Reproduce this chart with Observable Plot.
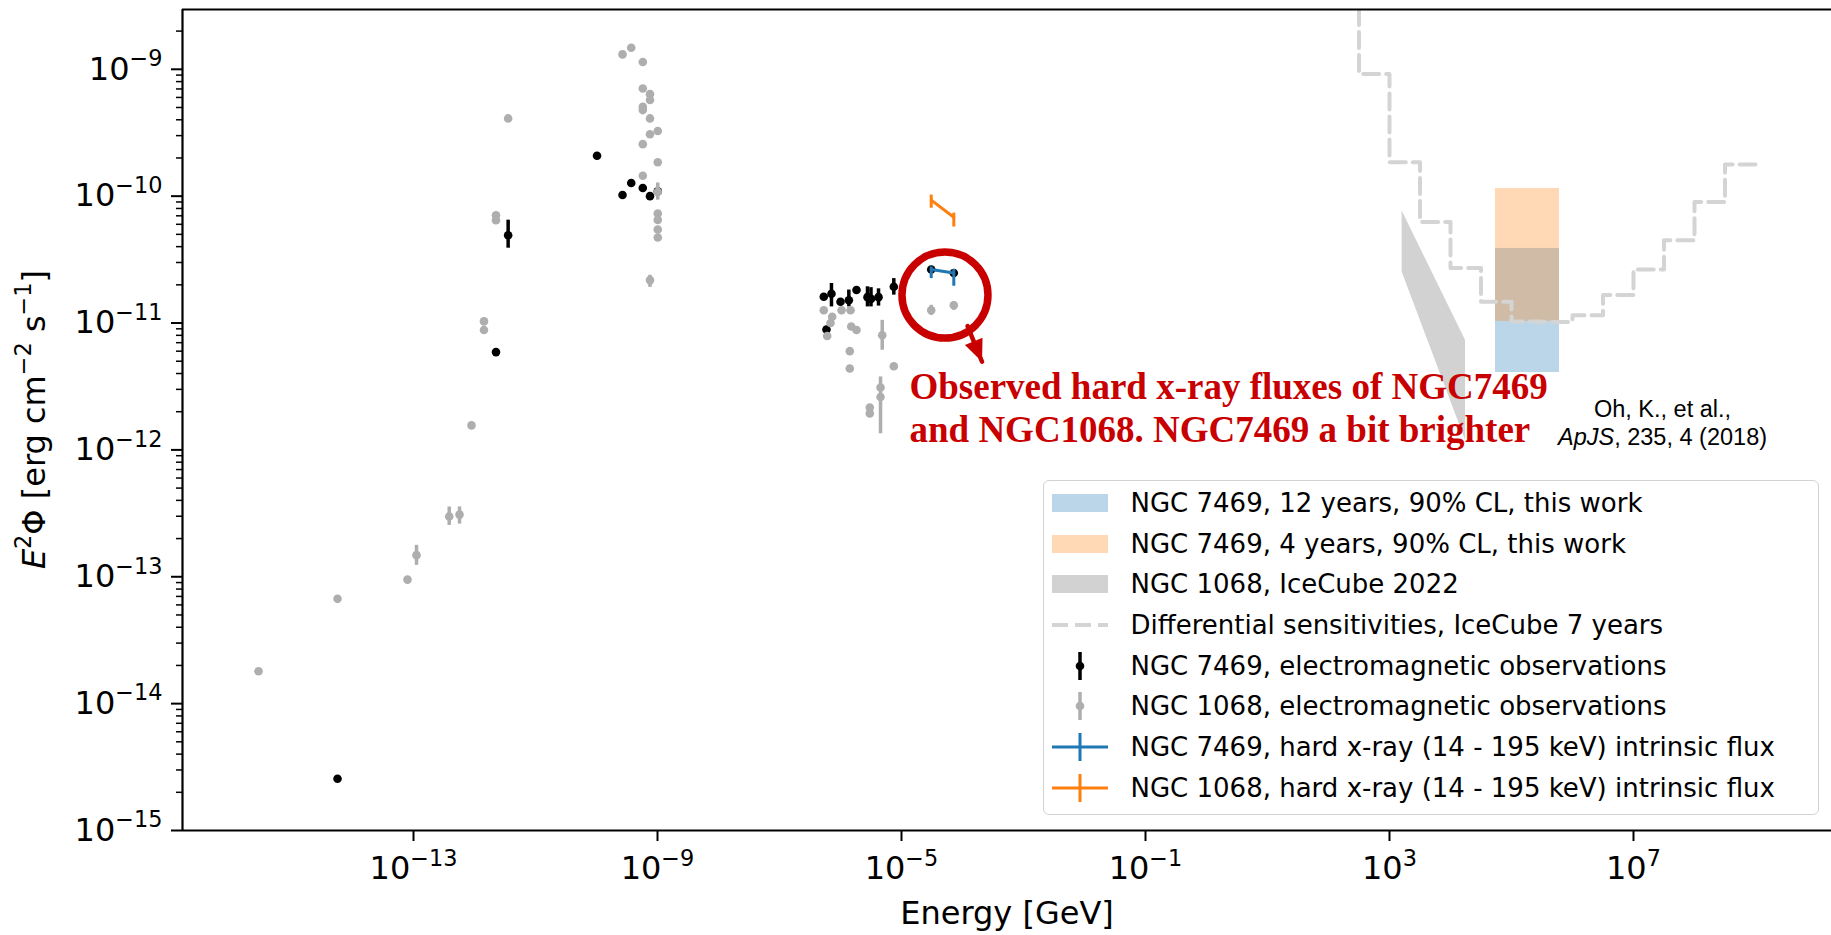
<!DOCTYPE html>
<html>
<head>
<meta charset="utf-8">
<script src="https://cdn.jsdelivr.net/npm/d3@7"></script>
<script src="https://cdn.jsdelivr.net/npm/@observablehq/plot@0.6"></script>
<style>
  html, body { margin: 0; padding: 0; background: #fff; }
  #figure { position: relative; width: 1831px; height: 935px; overflow: hidden; background: #fff; }
  #figure > svg { position: absolute; left: 0; top: 0; }
  .legend { position: absolute; left: 1043px; top: 480px; width: 776px; height: 335px; box-sizing: border-box;
            border: 1.5px solid #d2d2d2; border-radius: 6px; background: rgba(255,255,255,0.8);
            font-family: "DejaVu Sans", sans-serif; font-size: 26px; color: #000; }
  .legend .row { position: absolute; left: 0; right: 0; height: 40px; }
  .legend .row svg { position: absolute; left: 7.5px; top: 0; overflow: visible; }
  .legend .row span { position: absolute; left: 86.5px; top: 50%; transform: translateY(-50%); white-space: nowrap; line-height: 1; }
</style>
</head>
<body>
<div id="figure"></div>
<script>
// ---- axes ----
const xDomain = [10 ** -16.787, 10 ** 10.246];   // Energy [GeV]
const yDomain = [1e-15, 2.96e-9];                // E^2 Phi [erg cm^-2 s^-1]
const xTicks = [1e-13, 1e-9, 1e-5, 1e-1, 1e3, 1e7];
const yTicks = [1e-15, 1e-14, 1e-13, 1e-12, 1e-11, 1e-10, 1e-9];
const xTitle = "Energy [GeV]";
const yTitleParts = [
  {t: "E", italic: true}, {t: "2", sup: true}, {t: "Φ [erg cm"}, {t: "−2", sup: true},
  {t: " s"}, {t: "−1", sup: true}, {t: "]"}
];

// ---- NGC 7469, electromagnetic observations ----
const n7469Energy = [5.68e-15, 2.25e-12, 3.56e-12, 1.02e-10, 2.67e-10, 3.71e-10, 5.74e-10, 7.53e-10, 1.01e-9,
                     5.32e-7, 5.89e-7, 7.11e-7, 1.0e-6, 1.37e-6, 1.83e-6, 2.77e-6, 3.16e-6, 4.2e-6, 7.48e-6,
                     3.07e-5, 7.2e-5];
const n7469Flux   = [2.56e-15, 5.9e-12, 4.92e-11, 2.08e-10, 1.02e-10, 1.27e-10, 1.16e-10, 1.0e-10, 1.09e-10,
                     1.61e-11, 8.9e-12, 1.7e-11, 1.47e-11, 1.51e-11, 1.82e-11, 1.6e-11, 1.55e-11, 1.6e-11, 1.93e-11,
                     2.64e-11, 2.48e-11];
const n7469ErrEnergy = [3.56e-12, 7.11e-7, 1.37e-6, 2.77e-6, 3.16e-6, 4.2e-6, 7.48e-6];
const n7469ErrLow    = [3.89e-11, 1.34e-11, 1.34e-11, 1.34e-11, 1.34e-11, 1.36e-11, 1.66e-11];
const n7469ErrHigh   = [6.47e-11, 2.05e-11, 1.82e-11, 1.93e-11, 1.9e-11, 1.86e-11, 2.24e-11];

// ---- NGC 1068, electromagnetic observations ----
const n1068Energy = [2.88e-16, 5.68e-15, 7.97e-14, 1.12e-13, 3.85e-13, 5.68e-13, 8.93e-13, 1.43e-12, 1.43e-12,
                     2.25e-12, 2.25e-12, 3.56e-12,
                     2.67e-10, 3.71e-10,
                     5.74e-10, 5.74e-10, 5.74e-10, 5.74e-10, 5.74e-10, 5.74e-10,
                     7.53e-10, 7.53e-10, 7.53e-10, 7.53e-10, 7.53e-10,
                     1.01e-9, 1.01e-9, 1.01e-9, 1.01e-9, 1.01e-9, 1.01e-9, 1.01e-9,
                     5.32e-7, 7.31e-7, 6.86e-7, 6.05e-7, 1.04e-6, 1.46e-6, 1.5e-6, 1.83e-6, 1.42e-6, 1.42e-6,
                     4.83e-6, 7.48e-6, 4.53e-6, 4.53e-6, 3.02e-6, 3.02e-6, 3.07e-5, 7.2e-5];
const n1068Flux   = [1.8e-14, 6.7e-14, 9.5e-14, 1.48e-13, 2.99e-13, 3.09e-13, 1.56e-12, 1.03e-11, 8.8e-12,
                     7.08e-11, 6.47e-11, 4.1e-10,
                     1.31e-9, 1.48e-9,
                     1.14e-9, 7.06e-10, 5.06e-10, 4.77e-10, 2.57e-10, 1.45e-10,
                     6.37e-10, 5.72e-10, 4.1e-10, 3.08e-10, 2.18e-11,
                     3.26e-10, 1.85e-10, 1.08e-10, 7.3e-11, 6.5e-11, 5.46e-11, 4.72e-11,
                     1.26e-11, 1.12e-11, 1.0e-11, 7.9e-12, 1.26e-11, 1.26e-11, 9.4e-12, 8.8e-12, 6.0e-12, 4.38e-12,
                     8.0e-12, 4.56e-12, 3.1e-12, 2.61e-12, 2.16e-12, 1.94e-12, 1.26e-11, 1.38e-11];
const n1068ErrEnergy = [1.12e-13, 3.85e-13, 5.68e-13, 1.01e-9, 7.53e-10, 4.83e-6, 4.53e-6, 3.07e-5, 7.2e-5];
const n1068ErrLow    = [1.23e-13, 2.54e-13, 2.6e-13, 9.3e-11, 1.91e-11, 6.1e-12, 1.34e-12, 1.15e-11, 1.26e-11];
const n1068ErrHigh   = [1.77e-13, 3.55e-13, 3.55e-13, 1.27e-10, 2.38e-11, 1.05e-11, 3.76e-12, 1.38e-11, 1.47e-11];

// ---- hard x-ray (14 - 195 keV) intrinsic flux ----
const hardXEnergy   = [3.07e-5, 7.2e-5];
const hx7469Flux    = [2.64e-11, 2.48e-11];
const hx7469Low     = [2.24e-11, 1.95e-11];
const hx7469High    = [2.77e-11, 2.64e-11];
const hx1068Flux    = [9.3e-11, 6.82e-11];
const hx1068Low     = [8.03e-11, 5.71e-11];
const hx1068High    = [1.02e-10, 7.35e-11];

// ---- neutrino results ----
const icBandEnergy = [1.61e3, 1.76e4];           // NGC 1068, IceCube 2022
const icBandUpper  = [7.65e-11, 7.31e-12];
const icBandLower  = [2.53e-11, 1.19e-12];
const limitEnergy  = [5.47e4, 6.12e5];           // NGC 7469 upper limits
const limit12yr    = [4.07e-12, 3.87e-11];
const limit4yr     = [1.03e-11, 1.15e-10];
const sensEdges = [1e2, 316.2, 1e3, 3162, 1e4, 3.162e4, 1e5, 3.162e5, 1e6, 3.162e6, 1e7, 3.162e7, 1e8, 3.162e8, 1e9];
const sensFlux  = [6e-9, 9.2e-10, 1.85e-10, 6.27e-11, 2.72e-11, 1.47e-11, 1.03e-11, 1.02e-11, 1.15e-11,
                   1.66e-11, 2.64e-11, 4.5e-11, 9.0e-11, 1.78e-10];

// ---- annotations ----
const noteText = "Observed hard x-ray fluxes of NGC7469\nand NGC1068. NGC7469 a bit brighter";
const noteAt = {e: 1.352e-5, f: 2.19e-12};
const ringAt = {e: 5.16e-5, f: 1.66e-11};
const arrowEnergy = [1.21e-4, 2.09e-4];
const arrowFlux   = [9.44e-12, 4.95e-12];
const refLines = ["Oh, K., et al.,", "ApJS, 235, 4 (2018)"];
const refAt = {e: 2.99e7, f: 1.65e-12};

const legendLabels = [
  "NGC 7469, 12 years, 90% CL, this work",
  "NGC 7469, 4 years, 90% CL, this work",
  "NGC 1068, IceCube 2022",
  "Differential sensitivities, IceCube 7 years",
  "NGC 7469, electromagnetic observations",
  "NGC 1068, electromagnetic observations",
  "NGC 7469, hard x-ray (14 - 195 keV) intrinsic flux",
  "NGC 1068, hard x-ray (14 - 195 keV) intrinsic flux"
];

// colours
const C_BLUE = "#1f77b4", C_ORANGE = "#ff7f0e", C_GRAY = "#aeaeae", C_BLACK = "#000",
      C_BAND = "#d2d2d2", C_SENS = "#d4d4d4", C_RED = "#c80000";
const AXIS_FONT = 32;

// ---- tables built from the arrays ----
const pts = (E, F) => E.map((e, i) => ({e, f: F[i]}));
const errs = (E, L, H) => E.map((e, i) => ({e, lo: L[i], hi: H[i]}));
const n7469 = pts(n7469Energy, n7469Flux);
const n7469Err = errs(n7469ErrEnergy, n7469ErrLow, n7469ErrHigh);
const n1068 = pts(n1068Energy, n1068Flux);
const n1068Err = errs(n1068ErrEnergy, n1068ErrLow, n1068ErrHigh);
const hx7469 = hardXEnergy.map((e, i) => ({e, f: hx7469Flux[i], lo: hx7469Low[i], hi: hx7469High[i]}));
const hx1068 = hardXEnergy.map((e, i) => ({e, f: hx1068Flux[i], lo: hx1068Low[i], hi: hx1068High[i]}));
const band = icBandEnergy.map((e, i) => ({e, hi: icBandUpper[i], lo: icBandLower[i]}));
const sens = sensEdges.map((e, i) => ({e, f: sensFlux[Math.min(i, sensFlux.length - 1)]}));
const arrow = pts(arrowEnergy, arrowFlux);
const yMinor = [];
for (let k = -15; k <= -9; k++) for (let m = 2; m <= 9; m++) { const v = m * 10 ** k; if (v <= yDomain[1]) yMinor.push(v); }

const powerFormat = d => `10^${Math.round(Math.log10(d))}`;
const yTitlePlain = yTitleParts.map(p => p.t).join("");

const chart = Plot.plot({
  width: 1831, height: 935,
  marginLeft: 182, marginRight: 0, marginTop: 9, marginBottom: 105,
  style: {fontFamily: "'DejaVu Sans', sans-serif", fontSize: `${AXIS_FONT}px`, background: "transparent", overflow: "visible"},
  x: {type: "log", domain: xDomain},
  y: {type: "log", domain: yDomain},
  marks: [
    // NGC 1068 IceCube band
    Plot.areaY(band, {x: "e", y1: "lo", y2: "hi", fill: C_BAND}),
    // NGC 7469 upper limits
    Plot.rect([{x1: limitEnergy[0], x2: limitEnergy[1], y1: limit12yr[0], y2: limit12yr[1]}],
      {x1: "x1", x2: "x2", y1: "y1", y2: "y2", fill: C_BLUE, fillOpacity: 0.3}),
    Plot.rect([{x1: limitEnergy[0], x2: limitEnergy[1], y1: limit4yr[0], y2: limit4yr[1]}],
      {x1: "x1", x2: "x2", y1: "y1", y2: "y2", fill: C_ORANGE, fillOpacity: 0.3}),
    // IceCube 7-year differential sensitivity
    Plot.line(sens, {x: "e", y: "f", curve: "step-after", stroke: C_SENS, strokeWidth: 4,
      strokeDasharray: "16,7", clip: true}),
    // electromagnetic data
    Plot.ruleX(n7469Err, {x: "e", y1: "lo", y2: "hi", stroke: C_BLACK, strokeWidth: 3.5}),
    Plot.dot(n7469, {x: "e", y: "f", r: 4.3, fill: C_BLACK}),
    Plot.ruleX(n1068Err, {x: "e", y1: "lo", y2: "hi", stroke: C_GRAY, strokeWidth: 3.5}),
    Plot.dot(n1068, {x: "e", y: "f", r: 4.3, fill: C_GRAY}),
    // hard x-ray intrinsic fluxes
    Plot.ruleX(hx7469, {x: "e", y1: "lo", y2: "hi", stroke: C_BLUE, strokeWidth: 3}),
    Plot.line(hx7469, {x: "e", y: "f", stroke: C_BLUE, strokeWidth: 3}),
    Plot.ruleX(hx1068, {x: "e", y1: "lo", y2: "hi", stroke: C_ORANGE, strokeWidth: 3}),
    Plot.line(hx1068, {x: "e", y: "f", stroke: C_ORANGE, strokeWidth: 3}),
    // callout
    Plot.dot([ringAt], {x: "e", y: "f", r: 43, stroke: C_RED, strokeWidth: 7.5, fill: "none"}),
    Plot.line(arrow, {x: "e", y: "f", stroke: C_RED, strokeWidth: 4.5}),
    Plot.vector([arrow[1]], {x: "e", y: "f", length: 22, rotate: 157.8, shape: "spike", r: 9.5,
      anchor: "end", fill: C_RED, stroke: "none"}),
    Plot.text([noteAt], {x: "e", y: "f", text: () => noteText, textAnchor: "start", lineAnchor: "middle",
      lineHeight: 1.17, fontFamily: "'Liberation Serif', 'Times New Roman', serif", fontWeight: "bold",
      fontSize: 37, fill: C_RED}),
    Plot.text([refAt], {x: "e", y: "f", text: () => refLines.join("\n"), textAnchor: "middle",
      lineAnchor: "middle", lineHeight: 1.19, fontFamily: "'Liberation Sans', Arial, sans-serif",
      fontSize: 23.5, fill: "#000"}),
    // axes
    Plot.axisY({ticks: yMinor, tickSize: 6, tickFormat: () => "", strokeWidth: 1.5, label: null}),
    Plot.axisY({ticks: yTicks, tickSize: 11, tickPadding: 9, tickFormat: powerFormat, strokeWidth: 2,
      fontSize: AXIS_FONT, label: null}),
    Plot.axisX({ticks: xTicks, tickSize: 11, tickPadding: 15, tickFormat: powerFormat, strokeWidth: 2,
      fontSize: AXIS_FONT, label: null}),
    Plot.ruleX([xDomain[0]], {stroke: "#000", strokeWidth: 2.2}),
    Plot.ruleY([yDomain[0]], {stroke: "#000", strokeWidth: 2.2}),
    Plot.ruleY([yDomain[1]], {stroke: "#000", strokeWidth: 2.2}),
    Plot.text([xTitle], {frameAnchor: "bottom", dy: 93, fontSize: AXIS_FONT}),
    Plot.text([yTitlePlain], {frameAnchor: "left", dx: -148, rotate: -90, fontSize: AXIS_FONT})
  ]
});

// rich text: superscripts and italics inside an SVG text node
function richText(node, parts, fontSize) {
  const sel = d3.select(node);
  sel.text(null);
  const raise = 0.42 * fontSize;
  let raised = false;
  for (const p of parts) {
    const t = sel.append("tspan").text(p.t);
    if (p.sup && !raised) { t.attr("dy", -raise); raised = true; }
    else if (!p.sup && raised) { t.attr("dy", raise); raised = false; }
    if (p.sup) t.attr("font-size", "70%");
    if (p.italic) t.attr("font-style", "italic");
  }
}

let yTitleNode = null;
chart.querySelectorAll("text").forEach(node => {
  const s = node.textContent;
  const m = /^10\^(-?\d+)$/.exec(s);
  if (m) {
    const k = +m[1];
    richText(node, [{t: "10"}, {t: (k < 0 ? "−" : "") + Math.abs(k), sup: true}], AXIS_FONT);
  } else if (s === yTitlePlain) {
    richText(node, yTitleParts, AXIS_FONT);
    yTitleNode = node;
  }
});
chart.querySelectorAll("tspan").forEach(node => {
  if (node.textContent === refLines[1]) {
    const sel = d3.select(node);
    sel.text(null);
    sel.append("tspan").attr("font-style", "italic").text("ApJS");
    sel.append("tspan").text(refLines[1].slice(4));
  }
});

const fig = document.getElementById("figure");
fig.appendChild(chart);

// keep the rotated y title centred on the plotting frame
if (yTitleNode) {
  const frameMid = (9 + 935 - 105) / 2;
  const r = yTitleNode.getBoundingClientRect();
  const f = fig.getBoundingClientRect();
  const delta = frameMid - (r.top - f.top + r.height / 2);
  yTitleNode.setAttribute("transform", `translate(0,${delta.toFixed(2)}) ${yTitleNode.getAttribute("transform") || ""}`);
}

// ---- legend ----
const handles = [
  {kind: "patch", color: C_BLUE, opacity: 0.3},
  {kind: "patch", color: C_ORANGE, opacity: 0.3},
  {kind: "patch", color: C_BAND, opacity: 1},
  {kind: "dash", color: C_SENS},
  {kind: "err", color: C_BLACK},
  {kind: "err", color: C_GRAY},
  {kind: "cross", color: C_BLUE},
  {kind: "cross", color: C_ORANGE}
];
const legend = d3.select(fig).append("div").attr("class", "legend");
legendLabels.forEach((label, i) => {
  const row = legend.append("div").attr("class", "row").style("top", `${1.8 + i * 40.7}px`);
  const svg = row.append("svg").attr("width", 56).attr("height", 40);
  const h = handles[i];
  if (h.kind === "patch") {
    svg.append("rect").attr("x", 0).attr("y", 11).attr("width", 56).attr("height", 18)
      .attr("fill", h.color).attr("fill-opacity", h.opacity);
  } else if (h.kind === "dash") {
    svg.append("line").attr("x1", 0).attr("x2", 56).attr("y1", 20).attr("y2", 20)
      .attr("stroke", h.color).attr("stroke-width", 4).attr("stroke-dasharray", "16,7");
  } else if (h.kind === "err") {
    svg.append("line").attr("x1", 28).attr("x2", 28).attr("y1", 6).attr("y2", 34)
      .attr("stroke", h.color).attr("stroke-width", 3.5);
    svg.append("circle").attr("cx", 28).attr("cy", 20).attr("r", 4.3).attr("fill", h.color);
  } else {
    svg.append("line").attr("x1", 0).attr("x2", 56).attr("y1", 20).attr("y2", 20)
      .attr("stroke", h.color).attr("stroke-width", 3);
    svg.append("line").attr("x1", 28).attr("x2", 28).attr("y1", 6).attr("y2", 34)
      .attr("stroke", h.color).attr("stroke-width", 3);
  }
  row.append("span").text(label);
});
</script>
</body>
</html>
